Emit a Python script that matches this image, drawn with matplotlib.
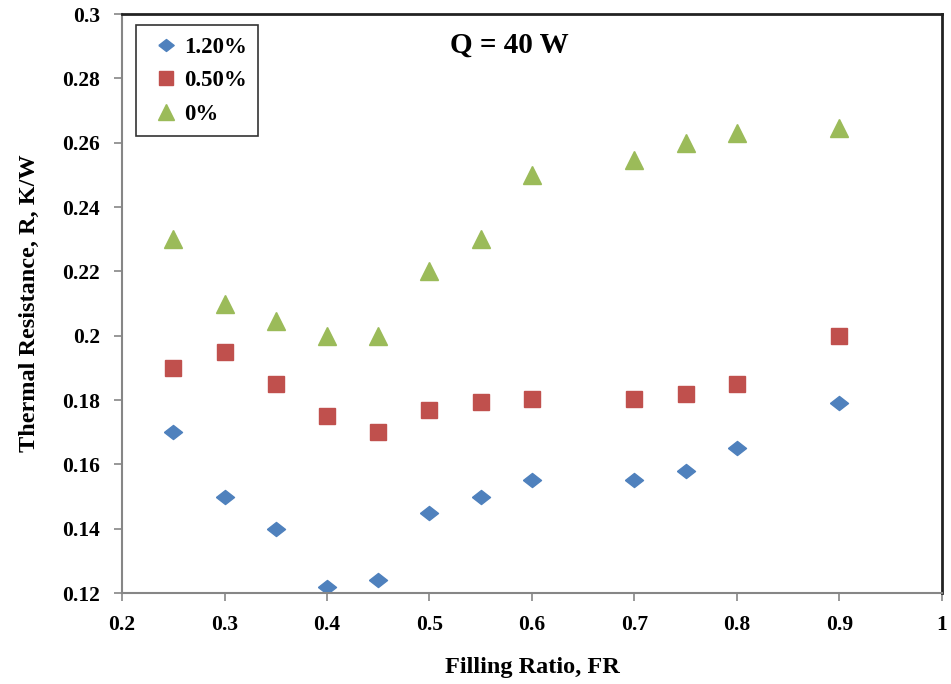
import matplotlib
matplotlib.use("Agg")
import matplotlib.pyplot as plt
from matplotlib.ticker import MultipleLocator, FormatStrFormatter

plt.rcParams["font.family"] = ["Liberation Serif", "DejaVu Serif"]
plt.rcParams["font.weight"] = "bold"

fr = [0.25, 0.3, 0.35, 0.4, 0.45, 0.5, 0.55, 0.6, 0.7, 0.75, 0.8, 0.9]
r_120 = [0.170, 0.150, 0.140, 0.122, 0.124, 0.145, 0.150, 0.155, 0.155, 0.158, 0.165, 0.179]
r_050 = [0.190, 0.195, 0.185, 0.175, 0.170, 0.177, 0.1795, 0.1803, 0.1802, 0.182, 0.185, 0.200]
r_000 = [0.230, 0.210, 0.2045, 0.200, 0.200, 0.220, 0.230, 0.250, 0.2547, 0.260, 0.263, 0.2647]

BLUE = "#4F81BD"
RED = "#C0504D"
GREEN = "#9BBB59"
diamond = [(-1, 0), (0, 0.78), (1, 0), (0, -0.78), (-1, 0)]

fig = plt.figure(figsize=(9.51, 6.84), dpi=100)
ax = fig.add_axes([0.1283, 0.133, 0.8622, 0.8465])

ax.plot(fr, r_120, ls="none", marker=diamond, ms=13, color=BLUE, mec=BLUE, label="1.20%")
ax.plot(fr, r_050, ls="none", marker="s", ms=12, color=RED, mec=RED, label="0.50%")
ax.plot(fr, r_000, ls="none", marker="^", ms=13, color=GREEN, mec=GREEN, label="0%")

ax.set_xlim(0.2, 1.0)
ax.set_ylim(0.12, 0.3)
ax.xaxis.set_major_locator(MultipleLocator(0.1))
ax.yaxis.set_major_locator(MultipleLocator(0.02))
ax.xaxis.set_major_formatter(FormatStrFormatter("%g"))
ax.yaxis.set_major_formatter(FormatStrFormatter("%g"))

for s in ("left", "bottom"):
    ax.spines[s].set_color("#868686")
    ax.spines[s].set_linewidth(1.5)
for s in ("top", "right"):
    ax.spines[s].set_color("#222222")
    ax.spines[s].set_linewidth(2)
ax.tick_params(direction="out", length=6, width=1.2, color="#868686",
               labelsize=15.5, pad=10)
for lab in ax.get_xticklabels() + ax.get_yticklabels():
    lab.set_fontweight("bold")

ax.set_xlabel("Filling Ratio, FR", fontsize=17.5, fontweight="bold", labelpad=16)
ax.set_ylabel("Thermal Resistance, R, K/W", fontsize=17.5, fontweight="bold", labelpad=16)

ax.text(0.472, 0.946, "Q = 40 W", transform=ax.transAxes, ha="center", va="center",
        fontsize=21, fontweight="bold")

leg = ax.legend(loc="upper left", bbox_to_anchor=(0.017, 0.981), fontsize=16.5,
                frameon=True, fancybox=False, edgecolor="black", handletextpad=0.0,
                handlelength=1.6, labelspacing=0.55, borderpad=0.5, markerscale=0.85,
                borderaxespad=0)
leg.get_frame().set_linewidth(1.2)
for t in leg.get_texts():
    t.set_fontweight("bold")

fig.savefig("out.png", dpi=100)
